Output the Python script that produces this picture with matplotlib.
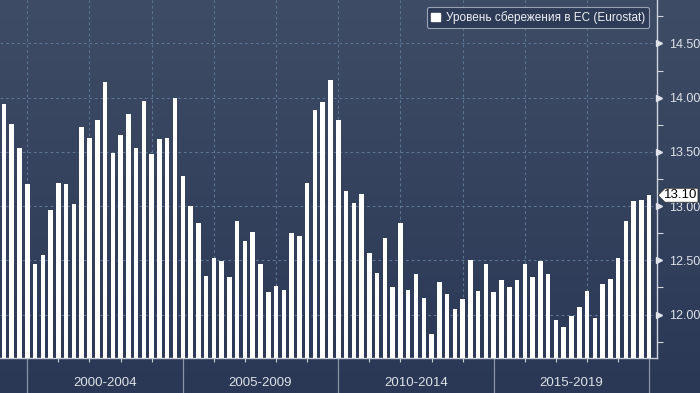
import numpy as np
import matplotlib
matplotlib.use("Agg")
import matplotlib.pyplot as plt
from matplotlib.patches import Patch, Polygon
from matplotlib.transforms import blended_transform_factory, ScaledTranslation

# Quarterly savings rate, 1999Q1 .. 2019Q4
quarters = [f"{y}Q{q}" for y in range(1999, 2020) for q in range(1, 5)]
savings = [
    13.94, 13.76, 13.54, 13.20, 12.47, 12.55, 12.96, 13.21,
    13.20, 13.02, 13.73, 13.63, 13.79, 14.14, 13.49, 13.66,
    13.85, 13.54, 13.97, 13.48, 13.62, 13.63, 14.00, 13.28,
    13.00, 12.84, 12.36, 12.52, 12.49, 12.35, 12.86, 12.68,
    12.76, 12.47, 12.21, 12.26, 12.23, 12.75, 12.72, 13.21,
    13.89, 13.96, 14.16, 13.79, 13.14, 13.03, 13.11, 12.57,
    12.38, 12.71, 12.25, 12.84, 12.23, 12.37, 12.15, 11.82,
    12.30, 12.19, 12.05, 12.14, 12.50, 12.22, 12.47, 12.21,
    12.32, 12.25, 12.32, 12.47, 12.35, 12.49, 12.37, 11.95,
    11.89, 11.99, 12.07, 12.22, 11.97, 12.28, 12.33, 12.52,
    12.86, 13.05, 13.06, 13.10,
]
periods = ["2000-2004", "2005-2009", "2010-2014", "2015-2019"]
period_starts = [2000, 2005, 2010, 2015]
yticks = [12.0, 12.5, 13.0, 13.5, 14.0, 14.5]
legend_label = "Уровень сбережения в ЕС (Eurostat)"

plt.rcParams['font.family'] = ['Liberation Sans', 'DejaVu Sans']

W, H = 700, 393
fig = plt.figure(figsize=(W / 100, H / 100), dpi=100)

# gradient background over the whole figure
bg = fig.add_axes([0, 0, 1, 1], zorder=-10)
top = np.array([62, 76, 101]) / 255
bot = np.array([42, 56, 86]) / 255
t = np.linspace(0, 1, 256)[:, None]
grad = top[None, :] * (1 - t) + bot[None, :] * t
bg.imshow(grad[:, None, :], aspect='auto', extent=[0, 1, 0, 1])
bg.axis('off')

# main plot area
ax_bottom = 358
ax_right = 657
ax = fig.add_axes([0, 1 - ax_bottom / H, ax_right / W, ax_bottom / H])
ax.set_facecolor('none')

xpos = [int(q[:4]) + int(q[-1]) / 4 for q in quarters]
ax.bar(xpos, savings, width=0.145, color='white', zorder=3)

ax.set_xlim(1999.122, 2020.25)
ax.set_ylim(11.60, 14.90)

grid_col = '#5d7592'
for yv in yticks:
    ax.axhline(yv, color=grid_col, lw=0.8, ls=(0, (2.5, 2.5)), zorder=1)
for xv in range(2000, 2020, 2):
    ax.axvline(xv, color=grid_col, lw=0.8, ls=(0, (2.5, 2.5)), zorder=1)

for s in ['top', 'left']:
    ax.spines[s].set_visible(False)
ax.spines['right'].set_color('#d0d4dc')
ax.spines['bottom'].set_color('#c8ccd4')
ax.spines['right'].set_linewidth(1)
ax.spines['bottom'].set_linewidth(1)

# right y axis
ax.yaxis.tick_right()
ax.set_yticks(yticks)
ax.set_yticklabels([f"{v:.2f}" for v in yticks])
ax.set_yticks(np.arange(11.75, 14.9, 0.5), minor=True)
ax.tick_params(axis='y', which='major', length=0, pad=9,
               labelsize=9, labelcolor='#dde1e8')
ax.tick_params(axis='y', which='minor', length=4, width=0.8,
               color='#d0d4dc')
tri = blended_transform_factory(ax.transAxes, ax.transData)
shift = ScaledTranslation(2 / 100, 0, fig.dpi_scale_trans)
ax.plot([1.0] * len(yticks), yticks, transform=tri + shift, ls='none',
        marker='>', ms=4.5, color='#e0e3ea', clip_on=False, zorder=5)

# x axis: yearly small ticks, long separators at 5-year boundaries
ax.set_xticks(range(2000, 2021), minor=True)
ax.set_xticks(range(2000, 2021, 5))
ax.set_xticklabels([])
ax.tick_params(axis='x', which='minor', length=3, width=0.8,
               color='#c8ccd4')
ax.tick_params(axis='x', which='major', length=26, width=0.9,
               color='#8a93a5')
xlab = blended_transform_factory(ax.transData, ax.transAxes)
for lab, xs in zip(periods, period_starts):
    ax.text(xs + 2.5, -0.07, lab, transform=xlab,
            ha='center', va='center', fontsize=9.5, color='#dde1e8')

# legend
leg = ax.legend(handles=[Patch(facecolor='white', edgecolor='white')],
                labels=[legend_label], loc='upper right',
                bbox_to_anchor=(655 / W, 1 - 1 / H),
                bbox_transform=fig.transFigure, fontsize=8.5,
                handlelength=0.75, handleheight=0.75, handletextpad=0.5,
                borderpad=0.35, fancybox=True, framealpha=1,
                facecolor='#2d3b57', edgecolor='#9aa3b5')
leg.get_frame().set_linewidth(0.8)
for txt in leg.get_texts():
    txt.set_color('#eef0f4')

# last value tag
last = savings[-1]
ydisp = ax.transData.transform((2019, last))[1]
yc = ydisp / H
hh = 7 / H
x0, x1, x2 = 658 / W, 665 / W, 698 / W
tag = Polygon([(x0, yc), (x1, yc + hh), (x2, yc + hh), (x2, yc - hh),
               (x1, yc - hh)], closed=True, transform=fig.transFigure,
              facecolor='white', edgecolor='#333333', lw=0.6, zorder=10)
fig.patches.append(tag)
fig.text(681 / W, yc, f"{last:.2f}", ha='center', va='center',
         fontsize=9.5, color='black', zorder=11)

fig.savefig("out.png", dpi=100)
